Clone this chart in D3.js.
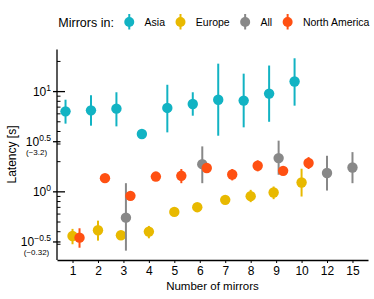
<!DOCTYPE html>
<html>
<head>
<meta charset="utf-8">
<script src="https://cdn.jsdelivr.net/npm/d3@7"></script>
<style>
  body { margin: 0; background: #fff; }
  text { font-family: "Liberation Sans", Arial, Helvetica, sans-serif; fill: #000; }
</style>
</head>
<body>
<svg id="chart" width="374" height="299"></svg>
<script>
// categories on the x axis (number of mirrors)
var xCats = ["1", "2", "3", "4", "5", "6", "7", "8", "9", "10", "12", "15"];

// latency [s] per group: median and error bar ends (null = no bar)
var asiaX   = ["1", "2", "3", "4", "5", "6", "7", "8", "9", "10"];
var asiaMid = [6.35, 6.5, 6.76, 3.78, 6.87, 7.53, 8.3, 8.13, 9.55, 12.6];
var asiaLo  = [4.79, 4.57, 4.5, null, 3.92, 5.75, 3.63, 4.4, 5.0, 7.24];
var asiaHi  = [8.3, 9.2, 9.85, null, 11.7, 9.85, 19, 15.1, 18.2, 21.5];

var europeX   = ["1", "2", "3", "4", "5", "6", "7", "8", "9", "10"];
var europeMid = [0.363, 0.414, 0.369, 0.401, 0.631, 0.703, 0.832, 0.906, 0.984, 1.24];
var europeLo  = [0.30, 0.326, 0.345, 0.344, null, null, null, 0.789, 0.845, 0.898];
var europeHi  = [0.427, 0.516, 0.40, 0.457, null, null, null, 1.047, 1.13, 1.70];

var allX   = ["3", "6", "9", "12", "15"];
var allMid = [0.553, 1.89, 2.17, 1.54, 1.75];
var allLo  = [0.259, 1.22, 1.48, 1.03, 1.22];
var allHi  = [1.22, 2.84, 3.24, 2.29, 2.49];

var naX   = ["1", "2", "3", "4", "5", "6", "7", "8", "9", "10"];
var naMid = [0.349, 1.37, 0.912, 1.42, 1.445, 1.73, 1.49, 1.82, 1.62, 1.94];
var naLo  = [0.277, null, null, null, 1.22, null, 1.30, 1.60, null, 1.69];
var naHi  = [0.433, null, null, null, 1.69, null, 1.69, 2.06, null, 2.22];

// y tick labels
var yLabelVals = [Math.pow(10, -0.5), 1, Math.pow(10, 0.5), 10];
var yLabelExp  = ["\u22120.5", "0", "0.5", "1"];
var yLabelNote = ["(~0.32)", null, "(~3.2)", null];

var groupNames  = ["Asia", "Europe", "All", "North America"];
var groupColors = ["#12b3c3", "#e8b900", "#888888", "#ff5012"];

function makeSeries(name, color, xs, mid, lo, hi) {
    return { name: name, color: color, points: xs.map(function(c, i) {
        return { x: c, v: mid[i], lo: lo[i], hi: hi[i] };
    }) };
}

var series = [
    makeSeries(groupNames[0], groupColors[0], asiaX, asiaMid, asiaLo, asiaHi),
    makeSeries(groupNames[1], groupColors[1], europeX, europeMid, europeLo, europeHi),
    makeSeries(groupNames[2], groupColors[2], allX, allMid, allLo, allHi),
    makeSeries(groupNames[3], groupColors[3], naX, naMid, naLo, naHi)
];

var svg = d3.select("#chart");
var plotLeft = 57, plotRight = 368, plotTop = 49.5, plotBottom = 260;

var x = d3.scalePoint().domain(xCats).range([plotLeft, plotRight]).padding(0.61);
var y = d3.scaleLog().domain([Math.pow(10, -0.68), Math.pow(10, 1.42)]).range([plotBottom, plotTop]);

// horizontal dodge inside a category
function dodge(name, c) {
    if (name == "Asia") return -7;
    if (name == "North America") return 7;
    var both = europeX.indexOf(c) != -1 && allX.indexOf(c) != -1;
    if (!both) return 0;
    return name == "Europe" ? -2.5 : 2.5;
}

// ---- y axis ----
var yAxis = svg.append("g");
yAxis.append("line")
    .attr("x1", plotLeft).attr("x2", plotLeft).attr("y1", plotTop).attr("y2", plotBottom)
    .attr("stroke", "#000").attr("stroke-width", 1.3);

var minor = [];
[-1, 0, 1].forEach(function(k) {
    for (var m = 2; m <= 9; m++) {
        var v = m * Math.pow(10, k);
        if (v >= y.domain()[0] && v <= y.domain()[1]) minor.push(v);
    }
});
yAxis.selectAll("line.minor").data(minor).enter().append("line")
    .attr("class", "minor")
    .attr("x1", plotLeft).attr("x2", plotLeft + 3.5)
    .attr("y1", function(d) { return y(d); }).attr("y2", function(d) { return y(d); })
    .attr("stroke", "#000").attr("stroke-width", 1);

yAxis.selectAll("line.major").data(yLabelVals).enter().append("line")
    .attr("class", "major")
    .attr("x1", plotLeft - 4)
    .attr("x2", function(d, i) { return yLabelExp[i].indexOf(".") == -1 ? plotLeft + 8 : plotLeft + 3.5; })
    .attr("y1", function(d) { return y(d); }).attr("y2", function(d) { return y(d); })
    .attr("stroke", "#000").attr("stroke-width", 1.3);

var yl = yAxis.selectAll("text.ylab").data(yLabelVals).enter().append("text")
    .attr("class", "ylab")
    .attr("x", 51)
    .attr("y", function(d) { return y(d) + 4.5; })
    .attr("text-anchor", "end")
    .style("font-size", "12px");
yl.append("tspan").text("10");
yl.append("tspan").attr("dy", -5).style("font-size", "8.5px")
    .text(function(d, i) { return yLabelExp[i]; });

yAxis.selectAll("text.ynote").data(yLabelVals.filter(function(d, i) { return yLabelNote[i]; }))
    .enter().append("text")
    .attr("class", "ynote")
    .attr("x", 36.5)
    .attr("y", function(d) { return y(d) + 13.5; })
    .attr("text-anchor", "middle")
    .style("font-size", "8px")
    .text(function(d) { return yLabelNote[yLabelVals.indexOf(d)]; });

svg.append("text")
    .attr("transform", "translate(15.5," + 154.5 + ") rotate(-90)")
    .attr("text-anchor", "middle")
    .style("font-size", "12px")
    .text("Latency [s]");

// ---- x axis ----
var xAxis = svg.append("g")
    .attr("transform", "translate(0," + plotBottom + ")")
    .call(d3.axisBottom(x).tickSize(3).tickSizeOuter(0).tickPadding(3));
xAxis.select(".domain").attr("stroke-width", 1.3);
xAxis.selectAll(".tick line").attr("stroke-width", 1);
xAxis.selectAll(".tick text")
    .style("font-size", "12px")
    .style("font-family", "'Liberation Sans', Arial, Helvetica, sans-serif");

svg.append("text")
    .attr("x", 212.5).attr("y", 290)
    .attr("text-anchor", "middle")
    .style("font-size", "11.5px")
    .text("Number of mirrors");

// ---- points with error bars ----
var groups = svg.selectAll("g.series").data(series).enter().append("g")
    .attr("class", "series");

groups.each(function(s) {
    var g = d3.select(this);
    var withBars = s.points.filter(function(p) { return p.lo != null; });
    g.selectAll("line.err").data(withBars).enter().append("line")
        .attr("class", "err")
        .attr("x1", function(p) { return x(p.x) + dodge(s.name, p.x); })
        .attr("x2", function(p) { return x(p.x) + dodge(s.name, p.x); })
        .attr("y1", function(p) { return y(p.lo); })
        .attr("y2", function(p) { return y(p.hi); })
        .attr("stroke", s.color).attr("stroke-width", 2);
    g.selectAll("circle").data(s.points).enter().append("circle")
        .attr("cx", function(p) { return x(p.x) + dodge(s.name, p.x); })
        .attr("cy", function(p) { return y(p.v); })
        .attr("r", 5.2)
        .attr("fill", s.color);
});

// ---- legend ----
var legend = svg.append("g");
var lx = 58.3, ly = 22;
var title = legend.append("text")
    .attr("x", lx).attr("y", ly + 4.7)
    .style("font-size", "12.5px")
    .text("Mirrors in:");
lx += title.node().getComputedTextLength() + 15.4;

series.forEach(function(s) {
    legend.append("line")
        .attr("x1", lx).attr("x2", lx).attr("y1", ly - 8).attr("y2", ly + 7.5)
        .attr("stroke", s.color).attr("stroke-width", 2);
    legend.append("circle")
        .attr("cx", lx).attr("cy", ly).attr("r", 5)
        .attr("fill", s.color);
    var t = legend.append("text")
        .attr("x", lx + 15.3).attr("y", ly + 4)
        .style("font-size", "10.5px")
        .text(s.name);
    lx += 15.3 + t.node().getComputedTextLength() + 15.5;
});
</script>
</body>
</html>
